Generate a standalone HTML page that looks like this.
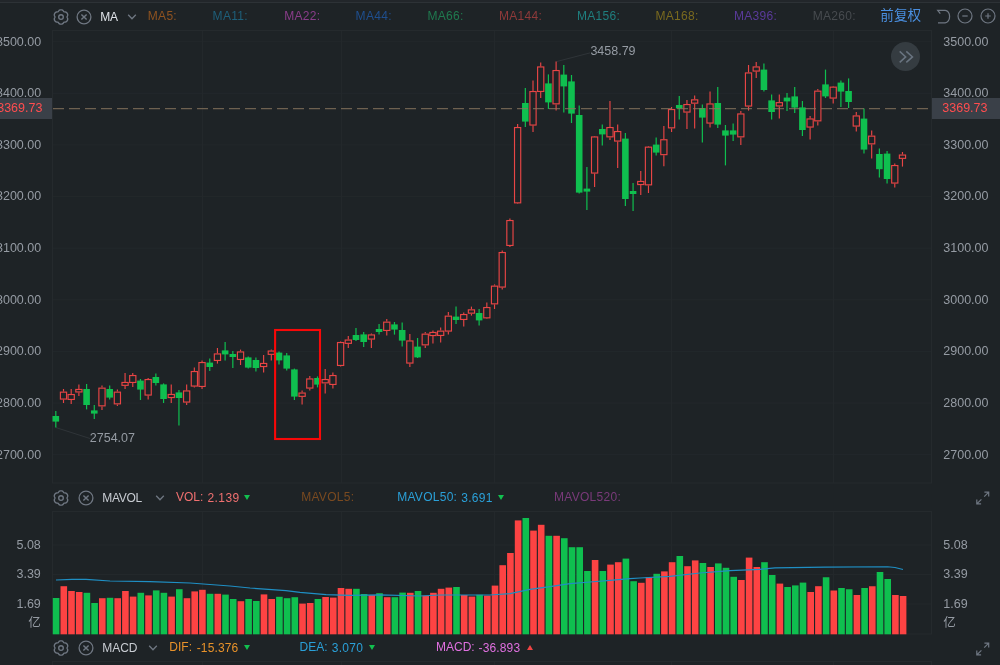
<!DOCTYPE html>
<html><head><meta charset="utf-8"><title>K线图</title>
<style>
html,body{margin:0;padding:0;}
body{width:1000px;height:665px;overflow:hidden;background:#1e2326;font-family:"Liberation Sans","Noto Sans CJK SC",sans-serif;position:relative;}
#chart{position:absolute;left:0;top:0;}
.t{position:absolute;line-height:16px;height:16px;white-space:nowrap;font-size:12px;}
.r{position:absolute;line-height:16px;height:16px;white-space:nowrap;font-size:12px;text-align:right;color:#959ba3;}
.icn{position:absolute;width:16px;height:16px;}
.icn svg{display:block;overflow:visible;}
.topline{position:absolute;left:0;top:0;width:1000px;height:1.800px;background:#22262a;border-bottom:1.200px solid #2d3236;}
.pbox{position:absolute;background:#3a4048;height:20.600px;top:98.200px;}
.ax{font-size:12.500px;}
.tri-d{position:absolute;width:0;height:0;border-left:3.500px solid transparent;border-right:3.500px solid transparent;border-top:5px solid #12c04f;}
.tri-u{position:absolute;width:0;height:0;border-left:3.500px solid transparent;border-right:3.500px solid transparent;border-bottom:5px solid #f04444;}
.fast{position:absolute;left:890.700px;top:41.800px;width:29.700px;height:29.700px;border-radius:50%;background:#353c41;}
</style></head><body>
<div class="topline"></div>

<svg id="chart" width="1000" height="665" viewBox="0 0 1000 665">
<rect x="52.5" y="30.5" width="879" height="452.5" fill="none" stroke="#252a2d" stroke-width="1"/>
<line x1="53" y1="41.7" x2="931" y2="41.7" stroke="#23282b" stroke-width="1"/>
<line x1="53" y1="93.32" x2="931" y2="93.32" stroke="#23282b" stroke-width="1"/>
<line x1="53" y1="144.94" x2="931" y2="144.94" stroke="#23282b" stroke-width="1"/>
<line x1="53" y1="196.56" x2="931" y2="196.56" stroke="#23282b" stroke-width="1"/>
<line x1="53" y1="248.18" x2="931" y2="248.18" stroke="#23282b" stroke-width="1"/>
<line x1="53" y1="299.8" x2="931" y2="299.8" stroke="#23282b" stroke-width="1"/>
<line x1="53" y1="351.42" x2="931" y2="351.42" stroke="#23282b" stroke-width="1"/>
<line x1="53" y1="403.04" x2="931" y2="403.04" stroke="#23282b" stroke-width="1"/>
<line x1="53" y1="454.66" x2="931" y2="454.66" stroke="#23282b" stroke-width="1"/>
<line x1="202.5" y1="31" x2="202.5" y2="483" stroke="#23282b" stroke-width="1"/>
<line x1="202.5" y1="512" x2="202.5" y2="634" stroke="#23282b" stroke-width="1"/>
<line x1="202.5" y1="662" x2="202.5" y2="665" stroke="#23282b" stroke-width="1"/>
<line x1="341.5" y1="31" x2="341.5" y2="483" stroke="#23282b" stroke-width="1"/>
<line x1="341.5" y1="512" x2="341.5" y2="634" stroke="#23282b" stroke-width="1"/>
<line x1="341.5" y1="662" x2="341.5" y2="665" stroke="#23282b" stroke-width="1"/>
<line x1="494.5" y1="31" x2="494.5" y2="483" stroke="#23282b" stroke-width="1"/>
<line x1="494.5" y1="512" x2="494.5" y2="634" stroke="#23282b" stroke-width="1"/>
<line x1="494.5" y1="662" x2="494.5" y2="665" stroke="#23282b" stroke-width="1"/>
<line x1="671.5" y1="31" x2="671.5" y2="483" stroke="#23282b" stroke-width="1"/>
<line x1="671.5" y1="512" x2="671.5" y2="634" stroke="#23282b" stroke-width="1"/>
<line x1="671.5" y1="662" x2="671.5" y2="665" stroke="#23282b" stroke-width="1"/>
<line x1="833.5" y1="31" x2="833.5" y2="483" stroke="#23282b" stroke-width="1"/>
<line x1="833.5" y1="512" x2="833.5" y2="634" stroke="#23282b" stroke-width="1"/>
<line x1="833.5" y1="662" x2="833.5" y2="665" stroke="#23282b" stroke-width="1"/>
<rect x="52.5" y="511.5" width="879" height="122.5" fill="none" stroke="#252a2d" stroke-width="1"/>
<line x1="53" y1="545" x2="931" y2="545" stroke="#23282b" stroke-width="1"/>
<line x1="53" y1="574.5" x2="931" y2="574.5" stroke="#23282b" stroke-width="1"/>
<line x1="53" y1="604" x2="931" y2="604" stroke="#23282b" stroke-width="1"/>
<rect x="52.5" y="661.5" width="879" height="20" fill="none" stroke="#252a2d" stroke-width="1"/>
<line x1="56" y1="427.6" x2="90" y2="438.5" stroke="#2f3438" stroke-width="1"/>
<line x1="556.5" y1="61.6" x2="590" y2="52.9" stroke="#2f3438" stroke-width="1"/>
<line x1="55.8" y1="411" x2="55.8" y2="427.6" stroke="#0fbf4f" stroke-width="1.2"/>
<rect x="52.5" y="416" width="6.6" height="5.6" fill="#0fbf4f"/>
<line x1="63.5" y1="389" x2="63.5" y2="391.6" stroke="#e84545" stroke-width="1.15"/>
<line x1="63.5" y1="399.6" x2="63.5" y2="403" stroke="#e84545" stroke-width="1.15"/>
<rect x="60.4" y="392.15" width="6.2" height="6.9" fill="none" stroke="#e84545" stroke-width="1.15"/>
<line x1="71.19" y1="389" x2="71.19" y2="394" stroke="#e84545" stroke-width="1.15"/>
<line x1="71.19" y1="400" x2="71.19" y2="404" stroke="#e84545" stroke-width="1.15"/>
<rect x="68.09" y="394.55" width="6.2" height="4.9" fill="none" stroke="#e84545" stroke-width="1.15"/>
<line x1="78.89" y1="384.4" x2="78.89" y2="388.9" stroke="#e84545" stroke-width="1.15"/>
<line x1="78.89" y1="392.5" x2="78.89" y2="396" stroke="#e84545" stroke-width="1.15"/>
<rect x="75.79" y="389.45" width="6.2" height="2.5" fill="none" stroke="#e84545" stroke-width="1.15"/>
<line x1="86.59" y1="384" x2="86.59" y2="409.4" stroke="#0fbf4f" stroke-width="1.2"/>
<rect x="83.29" y="389" width="6.6" height="16" fill="#0fbf4f"/>
<line x1="94.28" y1="405" x2="94.28" y2="419" stroke="#0fbf4f" stroke-width="1.2"/>
<rect x="90.98" y="410.4" width="6.6" height="3.2" fill="#0fbf4f"/>
<line x1="101.98" y1="385.6" x2="101.98" y2="387.6" stroke="#e84545" stroke-width="1.15"/>
<line x1="101.98" y1="406.4" x2="101.98" y2="410" stroke="#e84545" stroke-width="1.15"/>
<rect x="98.88" y="388.15" width="6.2" height="17.7" fill="none" stroke="#e84545" stroke-width="1.15"/>
<line x1="109.68" y1="385.6" x2="109.68" y2="399.6" stroke="#0fbf4f" stroke-width="1.2"/>
<rect x="106.38" y="389" width="6.6" height="8.6" fill="#0fbf4f"/>
<line x1="117.38" y1="389.4" x2="117.38" y2="391.6" stroke="#e84545" stroke-width="1.15"/>
<line x1="117.38" y1="404.4" x2="117.38" y2="406" stroke="#e84545" stroke-width="1.15"/>
<rect x="114.28" y="392.15" width="6.2" height="11.7" fill="none" stroke="#e84545" stroke-width="1.15"/>
<line x1="125.07" y1="373" x2="125.07" y2="381.9" stroke="#e84545" stroke-width="1.15"/>
<line x1="125.07" y1="385.9" x2="125.07" y2="389" stroke="#e84545" stroke-width="1.15"/>
<rect x="121.97" y="382.45" width="6.2" height="2.9" fill="none" stroke="#e84545" stroke-width="1.15"/>
<line x1="132.77" y1="373" x2="132.77" y2="375" stroke="#e84545" stroke-width="1.15"/>
<line x1="132.77" y1="383" x2="132.77" y2="387" stroke="#e84545" stroke-width="1.15"/>
<rect x="129.67" y="375.55" width="6.2" height="6.9" fill="none" stroke="#e84545" stroke-width="1.15"/>
<line x1="140.47" y1="379" x2="140.47" y2="400" stroke="#0fbf4f" stroke-width="1.2"/>
<rect x="137.17" y="380.6" width="6.6" height="9" fill="#0fbf4f"/>
<line x1="148.16" y1="378" x2="148.16" y2="379" stroke="#e84545" stroke-width="1.15"/>
<line x1="148.16" y1="395.6" x2="148.16" y2="399.6" stroke="#e84545" stroke-width="1.15"/>
<rect x="145.06" y="379.55" width="6.2" height="15.5" fill="none" stroke="#e84545" stroke-width="1.15"/>
<line x1="155.86" y1="373.4" x2="155.86" y2="385.6" stroke="#0fbf4f" stroke-width="1.2"/>
<rect x="152.56" y="377" width="6.6" height="6" fill="#0fbf4f"/>
<line x1="163.56" y1="383.4" x2="163.56" y2="403" stroke="#0fbf4f" stroke-width="1.2"/>
<rect x="160.26" y="384.4" width="6.6" height="14.6" fill="#0fbf4f"/>
<line x1="171.25" y1="384.4" x2="171.25" y2="393.9" stroke="#e84545" stroke-width="1.15"/>
<line x1="171.25" y1="398.1" x2="171.25" y2="403" stroke="#e84545" stroke-width="1.15"/>
<rect x="168.16" y="394.45" width="6.2" height="3.1" fill="none" stroke="#e84545" stroke-width="1.15"/>
<line x1="178.95" y1="390" x2="178.95" y2="425.6" stroke="#0fbf4f" stroke-width="1.2"/>
<rect x="175.65" y="392.4" width="6.6" height="5.6" fill="#0fbf4f"/>
<line x1="186.65" y1="384.4" x2="186.65" y2="390.4" stroke="#e84545" stroke-width="1.15"/>
<line x1="186.65" y1="402.6" x2="186.65" y2="405" stroke="#e84545" stroke-width="1.15"/>
<rect x="183.55" y="390.95" width="6.2" height="11.1" fill="none" stroke="#e84545" stroke-width="1.15"/>
<line x1="194.35" y1="367.4" x2="194.35" y2="371" stroke="#e84545" stroke-width="1.15"/>
<line x1="194.35" y1="386.6" x2="194.35" y2="387.6" stroke="#e84545" stroke-width="1.15"/>
<rect x="191.25" y="371.55" width="6.2" height="14.5" fill="none" stroke="#e84545" stroke-width="1.15"/>
<line x1="202.04" y1="360.6" x2="202.04" y2="362" stroke="#e84545" stroke-width="1.15"/>
<line x1="202.04" y1="387" x2="202.04" y2="389" stroke="#e84545" stroke-width="1.15"/>
<rect x="198.94" y="362.55" width="6.2" height="23.9" fill="none" stroke="#e84545" stroke-width="1.15"/>
<line x1="209.74" y1="358.6" x2="209.74" y2="371" stroke="#0fbf4f" stroke-width="1.2"/>
<rect x="206.44" y="362.6" width="6.6" height="4.4" fill="#0fbf4f"/>
<line x1="217.44" y1="348" x2="217.44" y2="353.4" stroke="#e84545" stroke-width="1.15"/>
<line x1="217.44" y1="361" x2="217.44" y2="363.6" stroke="#e84545" stroke-width="1.15"/>
<rect x="214.34" y="353.95" width="6.2" height="6.5" fill="none" stroke="#e84545" stroke-width="1.15"/>
<line x1="225.13" y1="342" x2="225.13" y2="360.6" stroke="#0fbf4f" stroke-width="1.2"/>
<rect x="221.83" y="350.4" width="6.6" height="4" fill="#0fbf4f"/>
<line x1="232.83" y1="351" x2="232.83" y2="368" stroke="#0fbf4f" stroke-width="1.2"/>
<rect x="229.53" y="354" width="6.6" height="3" fill="#0fbf4f"/>
<line x1="240.53" y1="349.6" x2="240.53" y2="351.4" stroke="#e84545" stroke-width="1.15"/>
<line x1="240.53" y1="360" x2="240.53" y2="365" stroke="#e84545" stroke-width="1.15"/>
<rect x="237.43" y="351.95" width="6.2" height="7.5" fill="none" stroke="#e84545" stroke-width="1.15"/>
<line x1="248.23" y1="356.4" x2="248.23" y2="368.6" stroke="#0fbf4f" stroke-width="1.2"/>
<rect x="244.93" y="357.4" width="6.6" height="10.2" fill="#0fbf4f"/>
<line x1="255.92" y1="357.6" x2="255.92" y2="371.4" stroke="#0fbf4f" stroke-width="1.2"/>
<rect x="252.62" y="360" width="6.6" height="8" fill="#0fbf4f"/>
<line x1="263.62" y1="355" x2="263.62" y2="362.9" stroke="#e84545" stroke-width="1.15"/>
<line x1="263.62" y1="367.1" x2="263.62" y2="372.6" stroke="#e84545" stroke-width="1.15"/>
<rect x="260.52" y="363.45" width="6.2" height="3.1" fill="none" stroke="#e84545" stroke-width="1.15"/>
<line x1="271.32" y1="349.6" x2="271.32" y2="350.5" stroke="#e84545" stroke-width="1.15"/>
<line x1="271.32" y1="354.9" x2="271.32" y2="360.4" stroke="#e84545" stroke-width="1.15"/>
<rect x="268.22" y="351.05" width="6.2" height="3.3" fill="none" stroke="#e84545" stroke-width="1.15"/>
<line x1="279.01" y1="351.4" x2="279.01" y2="364.4" stroke="#0fbf4f" stroke-width="1.2"/>
<rect x="275.71" y="352.6" width="6.6" height="7.8" fill="#0fbf4f"/>
<line x1="286.71" y1="353" x2="286.71" y2="370.6" stroke="#0fbf4f" stroke-width="1.2"/>
<rect x="283.41" y="355.4" width="6.6" height="13.2" fill="#0fbf4f"/>
<line x1="294.41" y1="368.6" x2="294.41" y2="400" stroke="#0fbf4f" stroke-width="1.2"/>
<rect x="291.11" y="369.4" width="6.6" height="27.2" fill="#0fbf4f"/>
<line x1="302.1" y1="390.4" x2="302.1" y2="392.5" stroke="#e84545" stroke-width="1.15"/>
<line x1="302.1" y1="396.9" x2="302.1" y2="404.6" stroke="#e84545" stroke-width="1.15"/>
<rect x="299" y="393.05" width="6.2" height="3.3" fill="none" stroke="#e84545" stroke-width="1.15"/>
<line x1="309.8" y1="376" x2="309.8" y2="378.4" stroke="#e84545" stroke-width="1.15"/>
<line x1="309.8" y1="388.6" x2="309.8" y2="390.6" stroke="#e84545" stroke-width="1.15"/>
<rect x="306.7" y="378.95" width="6.2" height="9.1" fill="none" stroke="#e84545" stroke-width="1.15"/>
<line x1="317.5" y1="376.4" x2="317.5" y2="387.4" stroke="#0fbf4f" stroke-width="1.2"/>
<rect x="314.2" y="378" width="6.6" height="6.6" fill="#0fbf4f"/>
<line x1="325.19" y1="369" x2="325.19" y2="379" stroke="#e84545" stroke-width="1.15"/>
<line x1="325.19" y1="383.4" x2="325.19" y2="393.6" stroke="#e84545" stroke-width="1.15"/>
<rect x="322.09" y="379.55" width="6.2" height="3.3" fill="none" stroke="#e84545" stroke-width="1.15"/>
<line x1="332.89" y1="372.4" x2="332.89" y2="375" stroke="#e84545" stroke-width="1.15"/>
<line x1="332.89" y1="385" x2="332.89" y2="388.4" stroke="#e84545" stroke-width="1.15"/>
<rect x="329.79" y="375.55" width="6.2" height="8.9" fill="none" stroke="#e84545" stroke-width="1.15"/>
<line x1="340.59" y1="341.4" x2="340.59" y2="342" stroke="#e84545" stroke-width="1.15"/>
<line x1="340.59" y1="366" x2="340.59" y2="366.6" stroke="#e84545" stroke-width="1.15"/>
<rect x="337.49" y="342.55" width="6.2" height="22.9" fill="none" stroke="#e84545" stroke-width="1.15"/>
<line x1="348.29" y1="336" x2="348.29" y2="339.5" stroke="#e84545" stroke-width="1.15"/>
<line x1="348.29" y1="343.9" x2="348.29" y2="348" stroke="#e84545" stroke-width="1.15"/>
<rect x="345.19" y="340.05" width="6.2" height="3.3" fill="none" stroke="#e84545" stroke-width="1.15"/>
<line x1="355.98" y1="328" x2="355.98" y2="341" stroke="#0fbf4f" stroke-width="1.2"/>
<rect x="352.68" y="335" width="6.6" height="5" fill="#0fbf4f"/>
<line x1="363.68" y1="332" x2="363.68" y2="347" stroke="#0fbf4f" stroke-width="1.2"/>
<rect x="360.38" y="334.4" width="6.6" height="7.6" fill="#0fbf4f"/>
<line x1="371.38" y1="333.6" x2="371.38" y2="334.4" stroke="#e84545" stroke-width="1.15"/>
<line x1="371.38" y1="339.6" x2="371.38" y2="348" stroke="#e84545" stroke-width="1.15"/>
<rect x="368.28" y="334.95" width="6.2" height="4.1" fill="none" stroke="#e84545" stroke-width="1.15"/>
<line x1="379.07" y1="324" x2="379.07" y2="334.6" stroke="#0fbf4f" stroke-width="1.2"/>
<rect x="375.77" y="329" width="6.6" height="3" fill="#0fbf4f"/>
<line x1="386.77" y1="319" x2="386.77" y2="321.6" stroke="#e84545" stroke-width="1.15"/>
<line x1="386.77" y1="331" x2="386.77" y2="335.4" stroke="#e84545" stroke-width="1.15"/>
<rect x="383.67" y="322.15" width="6.2" height="8.3" fill="none" stroke="#e84545" stroke-width="1.15"/>
<line x1="394.47" y1="322" x2="394.47" y2="334.6" stroke="#0fbf4f" stroke-width="1.2"/>
<rect x="391.17" y="324.4" width="6.6" height="5.2" fill="#0fbf4f"/>
<line x1="402.17" y1="322.4" x2="402.17" y2="346.4" stroke="#0fbf4f" stroke-width="1.2"/>
<rect x="398.87" y="330" width="6.6" height="10.6" fill="#0fbf4f"/>
<line x1="409.86" y1="334" x2="409.86" y2="340.4" stroke="#e84545" stroke-width="1.15"/>
<line x1="409.86" y1="363.6" x2="409.86" y2="367" stroke="#e84545" stroke-width="1.15"/>
<rect x="406.76" y="340.95" width="6.2" height="22.1" fill="none" stroke="#e84545" stroke-width="1.15"/>
<line x1="417.56" y1="338" x2="417.56" y2="358" stroke="#0fbf4f" stroke-width="1.2"/>
<rect x="414.26" y="346.6" width="6.6" height="10.8" fill="#0fbf4f"/>
<line x1="425.26" y1="332" x2="425.26" y2="333.6" stroke="#e84545" stroke-width="1.15"/>
<line x1="425.26" y1="345.4" x2="425.26" y2="348" stroke="#e84545" stroke-width="1.15"/>
<rect x="422.16" y="334.15" width="6.2" height="10.7" fill="none" stroke="#e84545" stroke-width="1.15"/>
<line x1="432.95" y1="330.6" x2="432.95" y2="331.9" stroke="#e84545" stroke-width="1.15"/>
<line x1="432.95" y1="336.1" x2="432.95" y2="343.6" stroke="#e84545" stroke-width="1.15"/>
<rect x="429.85" y="332.45" width="6.2" height="3.1" fill="none" stroke="#e84545" stroke-width="1.15"/>
<line x1="440.65" y1="327.6" x2="440.65" y2="330.6" stroke="#e84545" stroke-width="1.15"/>
<line x1="440.65" y1="336" x2="440.65" y2="342.4" stroke="#e84545" stroke-width="1.15"/>
<rect x="437.55" y="331.15" width="6.2" height="4.3" fill="none" stroke="#e84545" stroke-width="1.15"/>
<line x1="448.35" y1="312" x2="448.35" y2="315.6" stroke="#e84545" stroke-width="1.15"/>
<line x1="448.35" y1="331.6" x2="448.35" y2="334.4" stroke="#e84545" stroke-width="1.15"/>
<rect x="445.25" y="316.15" width="6.2" height="14.9" fill="none" stroke="#e84545" stroke-width="1.15"/>
<line x1="456.04" y1="306.4" x2="456.04" y2="324" stroke="#0fbf4f" stroke-width="1.2"/>
<rect x="452.74" y="316.6" width="6.6" height="3.4" fill="#0fbf4f"/>
<line x1="463.74" y1="312.6" x2="463.74" y2="314" stroke="#e84545" stroke-width="1.15"/>
<line x1="463.74" y1="320" x2="463.74" y2="326.6" stroke="#e84545" stroke-width="1.15"/>
<rect x="460.64" y="314.55" width="6.2" height="4.9" fill="none" stroke="#e84545" stroke-width="1.15"/>
<line x1="471.44" y1="306.6" x2="471.44" y2="309.3" stroke="#e84545" stroke-width="1.15"/>
<line x1="471.44" y1="313.7" x2="471.44" y2="315.6" stroke="#e84545" stroke-width="1.15"/>
<rect x="468.34" y="309.85" width="6.2" height="3.3" fill="none" stroke="#e84545" stroke-width="1.15"/>
<line x1="479.13" y1="309" x2="479.13" y2="325.6" stroke="#0fbf4f" stroke-width="1.2"/>
<rect x="475.83" y="313" width="6.6" height="7.4" fill="#0fbf4f"/>
<line x1="486.83" y1="302.6" x2="486.83" y2="307" stroke="#e84545" stroke-width="1.15"/>
<line x1="486.83" y1="318.4" x2="486.83" y2="319" stroke="#e84545" stroke-width="1.15"/>
<rect x="483.73" y="307.55" width="6.2" height="10.3" fill="none" stroke="#e84545" stroke-width="1.15"/>
<line x1="494.53" y1="284.4" x2="494.53" y2="285.6" stroke="#e84545" stroke-width="1.15"/>
<line x1="494.53" y1="304.4" x2="494.53" y2="309" stroke="#e84545" stroke-width="1.15"/>
<rect x="491.43" y="286.15" width="6.2" height="17.7" fill="none" stroke="#e84545" stroke-width="1.15"/>
<line x1="502.23" y1="250.6" x2="502.23" y2="252" stroke="#e84545" stroke-width="1.15"/>
<line x1="502.23" y1="287.6" x2="502.23" y2="289.4" stroke="#e84545" stroke-width="1.15"/>
<rect x="499.13" y="252.55" width="6.2" height="34.5" fill="none" stroke="#e84545" stroke-width="1.15"/>
<line x1="509.92" y1="218.6" x2="509.92" y2="220" stroke="#e84545" stroke-width="1.15"/>
<line x1="509.92" y1="246" x2="509.92" y2="247" stroke="#e84545" stroke-width="1.15"/>
<rect x="506.82" y="220.55" width="6.2" height="24.9" fill="none" stroke="#e84545" stroke-width="1.15"/>
<line x1="517.62" y1="124" x2="517.62" y2="127" stroke="#e84545" stroke-width="1.15"/>
<line x1="517.62" y1="203.4" x2="517.62" y2="204" stroke="#e84545" stroke-width="1.15"/>
<rect x="514.52" y="127.55" width="6.2" height="75.3" fill="none" stroke="#e84545" stroke-width="1.15"/>
<line x1="525.32" y1="88" x2="525.32" y2="127" stroke="#0fbf4f" stroke-width="1.2"/>
<rect x="522.02" y="103" width="6.6" height="18.6" fill="#0fbf4f"/>
<line x1="533.01" y1="80.6" x2="533.01" y2="91" stroke="#e84545" stroke-width="1.15"/>
<line x1="533.01" y1="125.6" x2="533.01" y2="132" stroke="#e84545" stroke-width="1.15"/>
<rect x="529.91" y="91.55" width="6.2" height="33.5" fill="none" stroke="#e84545" stroke-width="1.15"/>
<line x1="540.71" y1="62.4" x2="540.71" y2="66.4" stroke="#e84545" stroke-width="1.15"/>
<line x1="540.71" y1="92" x2="540.71" y2="98" stroke="#e84545" stroke-width="1.15"/>
<rect x="537.61" y="66.95" width="6.2" height="24.5" fill="none" stroke="#e84545" stroke-width="1.15"/>
<line x1="548.41" y1="74.4" x2="548.41" y2="109" stroke="#0fbf4f" stroke-width="1.2"/>
<rect x="545.11" y="83.4" width="6.6" height="19" fill="#0fbf4f"/>
<line x1="556.11" y1="61.6" x2="556.11" y2="70" stroke="#e84545" stroke-width="1.15"/>
<line x1="556.11" y1="104.4" x2="556.11" y2="110.6" stroke="#e84545" stroke-width="1.15"/>
<rect x="553" y="70.55" width="6.2" height="33.3" fill="none" stroke="#e84545" stroke-width="1.15"/>
<line x1="563.8" y1="65" x2="563.8" y2="112.4" stroke="#0fbf4f" stroke-width="1.2"/>
<rect x="560.5" y="74.6" width="6.6" height="11.8" fill="#0fbf4f"/>
<line x1="571.5" y1="75" x2="571.5" y2="123" stroke="#0fbf4f" stroke-width="1.2"/>
<rect x="568.2" y="81.4" width="6.6" height="32.2" fill="#0fbf4f"/>
<line x1="579.2" y1="105.4" x2="579.2" y2="193.6" stroke="#0fbf4f" stroke-width="1.2"/>
<rect x="575.9" y="115" width="6.6" height="77.6" fill="#0fbf4f"/>
<line x1="586.89" y1="167" x2="586.89" y2="210" stroke="#0fbf4f" stroke-width="1.2"/>
<rect x="583.59" y="188.6" width="6.6" height="3" fill="#0fbf4f"/>
<line x1="594.59" y1="136" x2="594.59" y2="136.4" stroke="#e84545" stroke-width="1.15"/>
<line x1="594.59" y1="173.6" x2="594.59" y2="187" stroke="#e84545" stroke-width="1.15"/>
<rect x="591.49" y="136.95" width="6.2" height="36.1" fill="none" stroke="#e84545" stroke-width="1.15"/>
<line x1="602.29" y1="124.4" x2="602.29" y2="145.6" stroke="#0fbf4f" stroke-width="1.2"/>
<rect x="598.99" y="129" width="6.6" height="5.4" fill="#0fbf4f"/>
<line x1="609.98" y1="101" x2="609.98" y2="127" stroke="#e84545" stroke-width="1.15"/>
<line x1="609.98" y1="137.4" x2="609.98" y2="140" stroke="#e84545" stroke-width="1.15"/>
<rect x="606.88" y="127.55" width="6.2" height="9.3" fill="none" stroke="#e84545" stroke-width="1.15"/>
<line x1="617.68" y1="124.4" x2="617.68" y2="131" stroke="#e84545" stroke-width="1.15"/>
<line x1="617.68" y1="141.6" x2="617.68" y2="168" stroke="#e84545" stroke-width="1.15"/>
<rect x="614.58" y="131.55" width="6.2" height="9.5" fill="none" stroke="#e84545" stroke-width="1.15"/>
<line x1="625.38" y1="133" x2="625.38" y2="206" stroke="#0fbf4f" stroke-width="1.2"/>
<rect x="622.08" y="138.6" width="6.6" height="60.4" fill="#0fbf4f"/>
<line x1="633.07" y1="183" x2="633.07" y2="211" stroke="#0fbf4f" stroke-width="1.2"/>
<rect x="629.77" y="191" width="6.6" height="3" fill="#0fbf4f"/>
<line x1="640.77" y1="171" x2="640.77" y2="180.9" stroke="#e84545" stroke-width="1.15"/>
<line x1="640.77" y1="185.1" x2="640.77" y2="195" stroke="#e84545" stroke-width="1.15"/>
<rect x="637.67" y="181.45" width="6.2" height="3.1" fill="none" stroke="#e84545" stroke-width="1.15"/>
<line x1="648.47" y1="146" x2="648.47" y2="146.6" stroke="#e84545" stroke-width="1.15"/>
<line x1="648.47" y1="185.4" x2="648.47" y2="193" stroke="#e84545" stroke-width="1.15"/>
<rect x="645.37" y="147.15" width="6.2" height="37.7" fill="none" stroke="#e84545" stroke-width="1.15"/>
<line x1="656.17" y1="137.4" x2="656.17" y2="155.6" stroke="#0fbf4f" stroke-width="1.2"/>
<rect x="652.87" y="144.6" width="6.6" height="8" fill="#0fbf4f"/>
<line x1="663.86" y1="126" x2="663.86" y2="139.2" stroke="#e84545" stroke-width="1.15"/>
<line x1="663.86" y1="155.2" x2="663.86" y2="166.2" stroke="#e84545" stroke-width="1.15"/>
<rect x="660.76" y="139.75" width="6.2" height="14.9" fill="none" stroke="#e84545" stroke-width="1.15"/>
<line x1="671.56" y1="107" x2="671.56" y2="109" stroke="#e84545" stroke-width="1.15"/>
<line x1="671.56" y1="128.4" x2="671.56" y2="132" stroke="#e84545" stroke-width="1.15"/>
<rect x="668.46" y="109.55" width="6.2" height="18.3" fill="none" stroke="#e84545" stroke-width="1.15"/>
<line x1="679.26" y1="96" x2="679.26" y2="119.4" stroke="#0fbf4f" stroke-width="1.2"/>
<rect x="675.96" y="105" width="6.6" height="3.4" fill="#0fbf4f"/>
<line x1="686.95" y1="100" x2="686.95" y2="104" stroke="#e84545" stroke-width="1.15"/>
<line x1="686.95" y1="112.6" x2="686.95" y2="129" stroke="#e84545" stroke-width="1.15"/>
<rect x="683.85" y="104.55" width="6.2" height="7.5" fill="none" stroke="#e84545" stroke-width="1.15"/>
<line x1="694.65" y1="95.4" x2="694.65" y2="99.3" stroke="#e84545" stroke-width="1.15"/>
<line x1="694.65" y1="103.7" x2="694.65" y2="128.4" stroke="#e84545" stroke-width="1.15"/>
<rect x="691.55" y="99.85" width="6.2" height="3.3" fill="none" stroke="#e84545" stroke-width="1.15"/>
<line x1="702.35" y1="104.6" x2="702.35" y2="142.4" stroke="#0fbf4f" stroke-width="1.2"/>
<rect x="699.05" y="108" width="6.6" height="9.6" fill="#0fbf4f"/>
<line x1="710.04" y1="91.6" x2="710.04" y2="103.4" stroke="#e84545" stroke-width="1.15"/>
<line x1="710.04" y1="123.6" x2="710.04" y2="127.6" stroke="#e84545" stroke-width="1.15"/>
<rect x="706.94" y="103.95" width="6.2" height="19.1" fill="none" stroke="#e84545" stroke-width="1.15"/>
<line x1="717.74" y1="87" x2="717.74" y2="128" stroke="#0fbf4f" stroke-width="1.2"/>
<rect x="714.44" y="103" width="6.6" height="21.6" fill="#0fbf4f"/>
<line x1="725.44" y1="125" x2="725.44" y2="165.4" stroke="#0fbf4f" stroke-width="1.2"/>
<rect x="722.14" y="130.4" width="6.6" height="5.2" fill="#0fbf4f"/>
<line x1="733.14" y1="123.6" x2="733.14" y2="141" stroke="#0fbf4f" stroke-width="1.2"/>
<rect x="729.84" y="130.4" width="6.6" height="4.2" fill="#0fbf4f"/>
<line x1="740.83" y1="111" x2="740.83" y2="113.4" stroke="#e84545" stroke-width="1.15"/>
<line x1="740.83" y1="137.4" x2="740.83" y2="145" stroke="#e84545" stroke-width="1.15"/>
<rect x="737.73" y="113.95" width="6.2" height="22.9" fill="none" stroke="#e84545" stroke-width="1.15"/>
<line x1="748.53" y1="65" x2="748.53" y2="72.4" stroke="#e84545" stroke-width="1.15"/>
<line x1="748.53" y1="106.6" x2="748.53" y2="110.6" stroke="#e84545" stroke-width="1.15"/>
<rect x="745.43" y="72.95" width="6.2" height="33.1" fill="none" stroke="#e84545" stroke-width="1.15"/>
<line x1="756.23" y1="62" x2="756.23" y2="66.4" stroke="#e84545" stroke-width="1.15"/>
<line x1="756.23" y1="71.6" x2="756.23" y2="78" stroke="#e84545" stroke-width="1.15"/>
<rect x="753.13" y="66.95" width="6.2" height="4.1" fill="none" stroke="#e84545" stroke-width="1.15"/>
<line x1="763.92" y1="63.4" x2="763.92" y2="91.4" stroke="#0fbf4f" stroke-width="1.2"/>
<rect x="760.62" y="69.6" width="6.6" height="20.4" fill="#0fbf4f"/>
<line x1="771.62" y1="94.4" x2="771.62" y2="119.6" stroke="#0fbf4f" stroke-width="1.2"/>
<rect x="768.32" y="100.4" width="6.6" height="11.6" fill="#0fbf4f"/>
<line x1="779.32" y1="94.4" x2="779.32" y2="102.1" stroke="#e84545" stroke-width="1.15"/>
<line x1="779.32" y1="106.5" x2="779.32" y2="118.4" stroke="#e84545" stroke-width="1.15"/>
<rect x="776.22" y="102.65" width="6.2" height="3.3" fill="none" stroke="#e84545" stroke-width="1.15"/>
<line x1="787.01" y1="93" x2="787.01" y2="111" stroke="#0fbf4f" stroke-width="1.2"/>
<rect x="783.72" y="97.6" width="6.6" height="3.8" fill="#0fbf4f"/>
<line x1="794.71" y1="87" x2="794.71" y2="113" stroke="#0fbf4f" stroke-width="1.2"/>
<rect x="791.41" y="96.4" width="6.6" height="11.2" fill="#0fbf4f"/>
<line x1="802.41" y1="101" x2="802.41" y2="136" stroke="#0fbf4f" stroke-width="1.2"/>
<rect x="799.11" y="107.4" width="6.6" height="22.6" fill="#0fbf4f"/>
<line x1="810.11" y1="116" x2="810.11" y2="118.4" stroke="#e84545" stroke-width="1.15"/>
<line x1="810.11" y1="127.6" x2="810.11" y2="139.4" stroke="#e84545" stroke-width="1.15"/>
<rect x="807.01" y="118.95" width="6.2" height="8.1" fill="none" stroke="#e84545" stroke-width="1.15"/>
<line x1="817.8" y1="89" x2="817.8" y2="90.6" stroke="#e84545" stroke-width="1.15"/>
<line x1="817.8" y1="121.4" x2="817.8" y2="125.6" stroke="#e84545" stroke-width="1.15"/>
<rect x="814.7" y="91.15" width="6.2" height="29.7" fill="none" stroke="#e84545" stroke-width="1.15"/>
<line x1="825.5" y1="69.6" x2="825.5" y2="98" stroke="#0fbf4f" stroke-width="1.2"/>
<rect x="822.2" y="84.4" width="6.6" height="12" fill="#0fbf4f"/>
<line x1="833.2" y1="86" x2="833.2" y2="86.6" stroke="#e84545" stroke-width="1.15"/>
<line x1="833.2" y1="98.6" x2="833.2" y2="103.6" stroke="#e84545" stroke-width="1.15"/>
<rect x="830.1" y="87.15" width="6.2" height="10.9" fill="none" stroke="#e84545" stroke-width="1.15"/>
<line x1="840.89" y1="80.4" x2="840.89" y2="107" stroke="#0fbf4f" stroke-width="1.2"/>
<rect x="837.59" y="82.6" width="6.6" height="9" fill="#0fbf4f"/>
<line x1="848.59" y1="78.4" x2="848.59" y2="108" stroke="#0fbf4f" stroke-width="1.2"/>
<rect x="845.29" y="91" width="6.6" height="11" fill="#0fbf4f"/>
<line x1="856.29" y1="112" x2="856.29" y2="115.4" stroke="#e84545" stroke-width="1.15"/>
<line x1="856.29" y1="126.6" x2="856.29" y2="131.6" stroke="#e84545" stroke-width="1.15"/>
<rect x="853.19" y="115.95" width="6.2" height="10.1" fill="none" stroke="#e84545" stroke-width="1.15"/>
<line x1="863.99" y1="108.4" x2="863.99" y2="153.6" stroke="#0fbf4f" stroke-width="1.2"/>
<rect x="860.69" y="118.6" width="6.6" height="31" fill="#0fbf4f"/>
<line x1="871.68" y1="130.6" x2="871.68" y2="135.6" stroke="#e84545" stroke-width="1.15"/>
<line x1="871.68" y1="144.4" x2="871.68" y2="158.4" stroke="#e84545" stroke-width="1.15"/>
<rect x="868.58" y="136.15" width="6.2" height="7.7" fill="none" stroke="#e84545" stroke-width="1.15"/>
<line x1="879.38" y1="148.4" x2="879.38" y2="177.6" stroke="#0fbf4f" stroke-width="1.2"/>
<rect x="876.08" y="154" width="6.6" height="15.2" fill="#0fbf4f"/>
<line x1="887.08" y1="151" x2="887.08" y2="183.4" stroke="#0fbf4f" stroke-width="1.2"/>
<rect x="883.78" y="153.6" width="6.6" height="25.4" fill="#0fbf4f"/>
<line x1="894.77" y1="163.4" x2="894.77" y2="165" stroke="#e84545" stroke-width="1.15"/>
<line x1="894.77" y1="183.6" x2="894.77" y2="187.4" stroke="#e84545" stroke-width="1.15"/>
<rect x="891.67" y="165.55" width="6.2" height="17.5" fill="none" stroke="#e84545" stroke-width="1.15"/>
<line x1="902.47" y1="152" x2="902.47" y2="154.5" stroke="#e84545" stroke-width="1.15"/>
<line x1="902.47" y1="158.9" x2="902.47" y2="166.6" stroke="#e84545" stroke-width="1.15"/>
<rect x="899.37" y="155.05" width="6.2" height="3.3" fill="none" stroke="#e84545" stroke-width="1.15"/>
<line x1="53" y1="108.6" x2="929" y2="108.6" stroke="#8a775f" stroke-opacity="0.75" stroke-width="1.2" stroke-dasharray="11 5"/>
<rect x="275.1" y="330" width="44.9" height="109" fill="none" stroke="#f80808" stroke-width="2.1"/>
<rect x="52.8" y="598" width="6.6" height="36.3" fill="#0fbf4f"/>
<rect x="60.5" y="586.2" width="6.6" height="48.1" fill="#fd4343"/>
<rect x="68.2" y="591" width="6.6" height="43.3" fill="#fd4343"/>
<rect x="75.9" y="592" width="6.6" height="42.3" fill="#fd4343"/>
<rect x="83.6" y="592.8" width="6.6" height="41.5" fill="#0fbf4f"/>
<rect x="91.3" y="603" width="6.6" height="31.3" fill="#0fbf4f"/>
<rect x="99" y="598.2" width="6.6" height="36.1" fill="#fd4343"/>
<rect x="106.7" y="597.8" width="6.6" height="36.5" fill="#0fbf4f"/>
<rect x="114.4" y="598.2" width="6.6" height="36.1" fill="#fd4343"/>
<rect x="122.1" y="591" width="6.6" height="43.3" fill="#fd4343"/>
<rect x="129.8" y="596.6" width="6.6" height="37.7" fill="#fd4343"/>
<rect x="137.5" y="592.8" width="6.6" height="41.5" fill="#0fbf4f"/>
<rect x="145.2" y="595.4" width="6.6" height="38.9" fill="#fd4343"/>
<rect x="152.9" y="590.4" width="6.6" height="43.9" fill="#0fbf4f"/>
<rect x="160.6" y="592.8" width="6.6" height="41.5" fill="#0fbf4f"/>
<rect x="168.3" y="596.6" width="6.6" height="37.7" fill="#fd4343"/>
<rect x="176" y="589.2" width="6.6" height="45.1" fill="#0fbf4f"/>
<rect x="183.7" y="598.2" width="6.6" height="36.1" fill="#fd4343"/>
<rect x="191.4" y="591.4" width="6.6" height="42.9" fill="#fd4343"/>
<rect x="199.1" y="589.8" width="6.6" height="44.5" fill="#fd4343"/>
<rect x="206.8" y="593.8" width="6.6" height="40.5" fill="#0fbf4f"/>
<rect x="214.5" y="593.8" width="6.6" height="40.5" fill="#fd4343"/>
<rect x="222.2" y="594.6" width="6.6" height="39.7" fill="#0fbf4f"/>
<rect x="229.9" y="599" width="6.6" height="35.3" fill="#0fbf4f"/>
<rect x="237.6" y="601.2" width="6.6" height="33.1" fill="#fd4343"/>
<rect x="245.3" y="599" width="6.6" height="35.3" fill="#0fbf4f"/>
<rect x="253" y="601" width="6.6" height="33.3" fill="#0fbf4f"/>
<rect x="260.7" y="594.4" width="6.6" height="39.9" fill="#fd4343"/>
<rect x="268.4" y="599" width="6.6" height="35.3" fill="#fd4343"/>
<rect x="276.1" y="596.8" width="6.6" height="37.5" fill="#0fbf4f"/>
<rect x="283.8" y="598.2" width="6.6" height="36.1" fill="#0fbf4f"/>
<rect x="291.5" y="597.2" width="6.6" height="37.1" fill="#0fbf4f"/>
<rect x="299.2" y="603.6" width="6.6" height="30.7" fill="#fd4343"/>
<rect x="306.9" y="603" width="6.6" height="31.3" fill="#fd4343"/>
<rect x="314.6" y="599" width="6.6" height="35.3" fill="#0fbf4f"/>
<rect x="322.3" y="597" width="6.6" height="37.3" fill="#fd4343"/>
<rect x="330" y="597.6" width="6.6" height="36.7" fill="#fd4343"/>
<rect x="337.7" y="588" width="6.6" height="46.3" fill="#fd4343"/>
<rect x="345.4" y="588.8" width="6.6" height="45.5" fill="#fd4343"/>
<rect x="353.1" y="588.8" width="6.6" height="45.5" fill="#0fbf4f"/>
<rect x="360.8" y="594" width="6.6" height="40.3" fill="#0fbf4f"/>
<rect x="368.5" y="595" width="6.6" height="39.3" fill="#fd4343"/>
<rect x="376.2" y="593.2" width="6.6" height="41.1" fill="#0fbf4f"/>
<rect x="383.9" y="597.2" width="6.6" height="37.1" fill="#fd4343"/>
<rect x="391.6" y="597.2" width="6.6" height="37.1" fill="#0fbf4f"/>
<rect x="399.3" y="592.6" width="6.6" height="41.7" fill="#0fbf4f"/>
<rect x="407" y="592.8" width="6.6" height="41.5" fill="#fd4343"/>
<rect x="414.7" y="591" width="6.6" height="43.3" fill="#0fbf4f"/>
<rect x="422.4" y="595.6" width="6.6" height="38.7" fill="#fd4343"/>
<rect x="430.1" y="592.8" width="6.6" height="41.5" fill="#fd4343"/>
<rect x="437.8" y="588.8" width="6.6" height="45.5" fill="#fd4343"/>
<rect x="445.5" y="587.6" width="6.6" height="46.7" fill="#fd4343"/>
<rect x="453.2" y="587" width="6.6" height="47.3" fill="#0fbf4f"/>
<rect x="460.9" y="595" width="6.6" height="39.3" fill="#fd4343"/>
<rect x="468.6" y="596.6" width="6.6" height="37.7" fill="#fd4343"/>
<rect x="476.3" y="594.8" width="6.6" height="39.5" fill="#0fbf4f"/>
<rect x="484" y="595.6" width="6.6" height="38.7" fill="#fd4343"/>
<rect x="491.7" y="585.6" width="6.6" height="48.7" fill="#fd4343"/>
<rect x="499.4" y="565.2" width="6.6" height="69.1" fill="#fd4343"/>
<rect x="507.1" y="553" width="6.6" height="81.3" fill="#fd4343"/>
<rect x="514.8" y="520.4" width="6.6" height="113.9" fill="#fd4343"/>
<rect x="522.5" y="518" width="6.6" height="116.3" fill="#0fbf4f"/>
<rect x="530.2" y="530.6" width="6.6" height="103.7" fill="#fd4343"/>
<rect x="537.9" y="524.8" width="6.6" height="109.5" fill="#fd4343"/>
<rect x="545.6" y="535.8" width="6.6" height="98.5" fill="#0fbf4f"/>
<rect x="553.3" y="535.8" width="6.6" height="98.5" fill="#fd4343"/>
<rect x="561" y="538.2" width="6.6" height="96.1" fill="#0fbf4f"/>
<rect x="568.7" y="547.2" width="6.6" height="87.1" fill="#0fbf4f"/>
<rect x="576.4" y="547.2" width="6.6" height="87.1" fill="#0fbf4f"/>
<rect x="584.1" y="571" width="6.6" height="63.3" fill="#0fbf4f"/>
<rect x="591.8" y="560" width="6.6" height="74.3" fill="#fd4343"/>
<rect x="599.5" y="571" width="6.6" height="63.3" fill="#0fbf4f"/>
<rect x="607.2" y="564.6" width="6.6" height="69.7" fill="#fd4343"/>
<rect x="614.9" y="562.2" width="6.6" height="72.1" fill="#fd4343"/>
<rect x="622.6" y="558.6" width="6.6" height="75.7" fill="#0fbf4f"/>
<rect x="630.3" y="581.2" width="6.6" height="53.1" fill="#0fbf4f"/>
<rect x="638" y="582.8" width="6.6" height="51.5" fill="#fd4343"/>
<rect x="645.7" y="577" width="6.6" height="57.3" fill="#fd4343"/>
<rect x="653.4" y="573.8" width="6.6" height="60.5" fill="#0fbf4f"/>
<rect x="661.1" y="571.4" width="6.6" height="62.9" fill="#fd4343"/>
<rect x="668.8" y="562.2" width="6.6" height="72.1" fill="#fd4343"/>
<rect x="676.5" y="556" width="6.6" height="78.3" fill="#0fbf4f"/>
<rect x="684.2" y="566.2" width="6.6" height="68.1" fill="#fd4343"/>
<rect x="691.9" y="560.4" width="6.6" height="73.9" fill="#fd4343"/>
<rect x="699.6" y="563" width="6.6" height="71.3" fill="#0fbf4f"/>
<rect x="707.3" y="567" width="6.6" height="67.3" fill="#fd4343"/>
<rect x="715" y="563.4" width="6.6" height="70.9" fill="#0fbf4f"/>
<rect x="722.7" y="567.8" width="6.6" height="66.5" fill="#0fbf4f"/>
<rect x="730.4" y="576.8" width="6.6" height="57.5" fill="#0fbf4f"/>
<rect x="738.1" y="580" width="6.6" height="54.3" fill="#fd4343"/>
<rect x="745.8" y="557.6" width="6.6" height="76.7" fill="#fd4343"/>
<rect x="753.5" y="567" width="6.6" height="67.3" fill="#fd4343"/>
<rect x="761.2" y="562.2" width="6.6" height="72.1" fill="#0fbf4f"/>
<rect x="768.9" y="575" width="6.6" height="59.3" fill="#0fbf4f"/>
<rect x="776.6" y="583.6" width="6.6" height="50.7" fill="#fd4343"/>
<rect x="784.3" y="587" width="6.6" height="47.3" fill="#0fbf4f"/>
<rect x="792" y="585.4" width="6.6" height="48.9" fill="#0fbf4f"/>
<rect x="799.7" y="582.6" width="6.6" height="51.7" fill="#0fbf4f"/>
<rect x="807.4" y="592" width="6.6" height="42.3" fill="#fd4343"/>
<rect x="815.1" y="586.2" width="6.6" height="48.1" fill="#fd4343"/>
<rect x="822.8" y="577.25" width="6.6" height="57.05" fill="#0fbf4f"/>
<rect x="830.5" y="590.5" width="6.6" height="43.8" fill="#fd4343"/>
<rect x="838.2" y="588" width="6.6" height="46.3" fill="#0fbf4f"/>
<rect x="845.9" y="589.25" width="6.6" height="45.05" fill="#0fbf4f"/>
<rect x="853.6" y="595" width="6.6" height="39.3" fill="#fd4343"/>
<rect x="861.3" y="588" width="6.6" height="46.3" fill="#0fbf4f"/>
<rect x="869" y="586.25" width="6.6" height="48.05" fill="#fd4343"/>
<rect x="876.7" y="572" width="6.6" height="62.3" fill="#0fbf4f"/>
<rect x="884.4" y="579" width="6.6" height="55.3" fill="#0fbf4f"/>
<rect x="892.1" y="595" width="6.6" height="39.3" fill="#fd4343"/>
<rect x="899.8" y="596" width="6.6" height="38.3" fill="#fd4343"/>
<polyline points="56,580 72,579.4 86,579.4 110,581 150,581.6 190,583 230,586 250,588 286,590.6 300,592.4 326,594.6 350,595.4 380,594.8 420,596 440,595 490,595 510,593.6 530,589.4 550,586.6 570,583.6 590,582 610,580.4 630,578.6 640,578 670,576.4 700,573 730,570.6 760,569.4 775,567.8 825,567.2 887.5,566.75 895,567.5 903,569.5" fill="none" stroke="#1f8fc4" stroke-width="1.2" stroke-linejoin="round"/>
</svg>
<div class="pbox" style="left:0;width:52px;"></div>
<div class="pbox" style="left:932px;width:68px;"></div>
<div class="r ax" style="left:-20px;width:61.200px;top:33.9px;">3500.00</div>
<div class="t ax" style="left:943.300px;top:33.9px;color:#959ba3;">3500.00</div>
<div class="r ax" style="left:-20px;width:61.200px;top:84.95px;">3400.00</div>
<div class="t ax" style="left:943.300px;top:84.95px;color:#959ba3;">3400.00</div>
<div class="r ax" style="left:-20px;width:61.200px;top:136.6px;">3300.00</div>
<div class="t ax" style="left:943.300px;top:136.6px;color:#959ba3;">3300.00</div>
<div class="r ax" style="left:-20px;width:61.200px;top:188.25px;">3200.00</div>
<div class="t ax" style="left:943.300px;top:188.25px;color:#959ba3;">3200.00</div>
<div class="r ax" style="left:-20px;width:61.200px;top:239.9px;">3100.00</div>
<div class="t ax" style="left:943.300px;top:239.9px;color:#959ba3;">3100.00</div>
<div class="r ax" style="left:-20px;width:61.200px;top:291.55px;">3000.00</div>
<div class="t ax" style="left:943.300px;top:291.55px;color:#959ba3;">3000.00</div>
<div class="r ax" style="left:-20px;width:61.200px;top:343.2px;">2900.00</div>
<div class="t ax" style="left:943.300px;top:343.2px;color:#959ba3;">2900.00</div>
<div class="r ax" style="left:-20px;width:61.200px;top:394.85px;">2800.00</div>
<div class="t ax" style="left:943.300px;top:394.85px;color:#959ba3;">2800.00</div>
<div class="r ax" style="left:-20px;width:61.200px;top:446.5px;">2700.00</div>
<div class="t ax" style="left:943.300px;top:446.5px;color:#959ba3;">2700.00</div>
<div class="r ax" style="left:-20px;width:62.400px;top:100.400px;color:#ff4d4f;">3369.73</div>
<div class="t ax" style="left:942.300px;top:100.400px;color:#ff4d4f;">3369.73</div>
<div class="r ax" style="left:0;width:40.800px;top:536.5px;">5.08</div>
<div class="t ax" style="left:943.300px;top:536.5px;color:#959ba3;">5.08</div>
<div class="r ax" style="left:0;width:40.800px;top:566.3px;">3.39</div>
<div class="t ax" style="left:943.300px;top:566.3px;color:#959ba3;">3.39</div>
<div class="r ax" style="left:0;width:40.800px;top:596px;">1.69</div>
<div class="t ax" style="left:943.300px;top:596px;color:#959ba3;">1.69</div>
<div class="r ax" style="left:0;width:40.800px;top:614.5px;">亿</div>
<div class="t ax" style="left:943.300px;top:614.5px;color:#959ba3;">亿</div>
<div class="t" style="left:89.8px;top:429.6px;color:#959ba3;font-size:12.5px;">2754.07</div>
<div class="t" style="left:590.4px;top:43.4px;color:#959ba3;font-size:12.5px;">3458.79</div>
<div class="icn" style="left:52.6px;top:9.15px;"><svg viewBox="0 0 16 16" width="16" height="16"><path d="M14.05 8.00 L14.12 8.40 L14.31 8.83 L14.52 9.30 L14.68 9.79 L14.71 10.28 L14.63 10.75 L14.46 11.18 L14.24 11.60 L13.99 12.00 L13.69 12.37 L13.33 12.68 L12.89 12.89 L12.38 13.00 L11.87 13.05 L11.41 13.10 L11.03 13.24 L10.71 13.50 L10.43 13.88 L10.14 14.30 L9.79 14.68 L9.38 14.95 L8.94 15.11 L8.47 15.18 L8.00 15.20 L7.53 15.18 L7.06 15.11 L6.62 14.95 L6.21 14.68 L5.86 14.30 L5.57 13.88 L5.29 13.50 L4.98 13.24 L4.59 13.10 L4.13 13.05 L3.62 13.00 L3.11 12.89 L2.67 12.68 L2.31 12.37 L2.01 12.00 L1.76 11.60 L1.54 11.18 L1.37 10.75 L1.29 10.28 L1.32 9.79 L1.48 9.30 L1.69 8.83 L1.88 8.40 L1.95 8.00 L1.88 7.60 L1.69 7.17 L1.48 6.70 L1.32 6.21 L1.29 5.72 L1.37 5.25 L1.54 4.82 L1.76 4.40 L2.01 4.00 L2.31 3.63 L2.67 3.32 L3.11 3.11 L3.62 3.00 L4.13 2.95 L4.59 2.90 L4.97 2.76 L5.29 2.50 L5.57 2.12 L5.86 1.70 L6.21 1.32 L6.62 1.05 L7.06 0.89 L7.53 0.82 L8.00 0.80 L8.47 0.82 L8.94 0.89 L9.38 1.05 L9.79 1.32 L10.14 1.70 L10.43 2.12 L10.71 2.50 L11.03 2.76 L11.41 2.90 L11.87 2.95 L12.38 3.00 L12.89 3.11 L13.33 3.32 L13.69 3.63 L13.99 4.00 L14.24 4.40 L14.46 4.82 L14.63 5.25 L14.71 5.72 L14.68 6.21 L14.52 6.70 L14.31 7.17 L14.12 7.60Z" fill="none" stroke="#6f7782" stroke-width="1.35" stroke-linejoin="round"/><circle cx="8" cy="8" r="2.3" fill="none" stroke="#6f7782" stroke-width="1.35"/></svg></div>
<div class="icn" style="left:75.6px;top:9.15px;"><svg viewBox="0 0 16 16" width="16" height="16"><circle cx="8" cy="8" r="6.9" fill="none" stroke="#6f7782" stroke-width="1.3"/><path d="M5.400 5.400L10.600 10.600M10.600 5.400L5.400 10.600" stroke="#6f7782" stroke-width="1.45" fill="none"/></svg></div>
<div class="t" style="left:100.2px;top:8.600000000000001px;color:#dfe3e8;font-size:12px;letter-spacing:-0.300px;">MA</div>
<div class="icn" style="left:126.800px;top:13.700px;"><svg viewBox="0 0 10 6" width="10" height="6"><path d="M1.200 0.800L5 4.800L8.800 0.800" fill="none" stroke="#6f7782" stroke-width="1.3"/></svg></div>
<div class="t" style="left:147.8px;top:7.9px;color:#8f5320;font-size:12px;letter-spacing:0.300px;">MA5:</div>
<div class="t" style="left:212.6px;top:7.9px;color:#1e5f7a;font-size:12px;letter-spacing:0.300px;">MA11:</div>
<div class="t" style="left:284.2px;top:7.9px;color:#8a3d8a;font-size:12px;letter-spacing:0.300px;">MA22:</div>
<div class="t" style="left:355.6px;top:7.9px;color:#1f4f8f;font-size:12px;letter-spacing:0.300px;">MA44:</div>
<div class="t" style="left:427.4px;top:7.9px;color:#1f7a4f;font-size:12px;letter-spacing:0.300px;">MA66:</div>
<div class="t" style="left:499px;top:7.9px;color:#8f3a3a;font-size:12px;letter-spacing:0.300px;">MA144:</div>
<div class="t" style="left:577px;top:7.9px;color:#1f7f7f;font-size:12px;letter-spacing:0.300px;">MA156:</div>
<div class="t" style="left:655.5px;top:7.9px;color:#7a6a1f;font-size:12px;letter-spacing:0.300px;">MA168:</div>
<div class="t" style="left:734px;top:7.9px;color:#5a3a9a;font-size:12px;letter-spacing:0.300px;">MA396:</div>
<div class="t" style="left:812.7px;top:7.9px;color:#474b4f;font-size:12px;letter-spacing:0.300px;">MA260:</div>
<div class="t" style="left:880.3px;top:8.100000000000001px;color:#4a8fe0;font-size:13.6px;">前复权</div>
<div class="icn" style="left:936px;top:8px;"><svg viewBox="0 0 16 16" width="16" height="16"><path d="M4.300 5.600L1.700 2.300H9.200A4.400 6.220 0 0 1 9.200 14.750H2" fill="none" stroke="#6f7782" stroke-width="1.25" stroke-linejoin="miter"/></svg></div>
<div class="icn" style="left:957.3px;top:8px;"><svg viewBox="0 0 16 16" width="16" height="16"><circle cx="8" cy="8" r="7" fill="none" stroke="#6f7782" stroke-width="1.2"/><path d="M5.300 8H10.700" stroke="#6f7782" stroke-width="1.25"/></svg></div>
<div class="icn" style="left:979.7px;top:8px;"><svg viewBox="0 0 16 16" width="16" height="16"><circle cx="8" cy="8" r="7" fill="none" stroke="#6f7782" stroke-width="1.2"/><path d="M5.200 8H10.800M8 5.200V10.800" stroke="#6f7782" stroke-width="1.2"/></svg></div>
<div class="fast"><svg viewBox="0 0 30 30" width="30" height="30"><path d="M8.700 9.400L14.700 14.900L8.700 20.400M15.300 9.400L21.500 14.900L15.300 20.400" fill="none" stroke="#697480" stroke-width="1.5"/></svg></div>
<div class="icn" style="left:52.6px;top:490.25px;"><svg viewBox="0 0 16 16" width="16" height="16"><path d="M14.05 8.00 L14.12 8.40 L14.31 8.83 L14.52 9.30 L14.68 9.79 L14.71 10.28 L14.63 10.75 L14.46 11.18 L14.24 11.60 L13.99 12.00 L13.69 12.37 L13.33 12.68 L12.89 12.89 L12.38 13.00 L11.87 13.05 L11.41 13.10 L11.03 13.24 L10.71 13.50 L10.43 13.88 L10.14 14.30 L9.79 14.68 L9.38 14.95 L8.94 15.11 L8.47 15.18 L8.00 15.20 L7.53 15.18 L7.06 15.11 L6.62 14.95 L6.21 14.68 L5.86 14.30 L5.57 13.88 L5.29 13.50 L4.98 13.24 L4.59 13.10 L4.13 13.05 L3.62 13.00 L3.11 12.89 L2.67 12.68 L2.31 12.37 L2.01 12.00 L1.76 11.60 L1.54 11.18 L1.37 10.75 L1.29 10.28 L1.32 9.79 L1.48 9.30 L1.69 8.83 L1.88 8.40 L1.95 8.00 L1.88 7.60 L1.69 7.17 L1.48 6.70 L1.32 6.21 L1.29 5.72 L1.37 5.25 L1.54 4.82 L1.76 4.40 L2.01 4.00 L2.31 3.63 L2.67 3.32 L3.11 3.11 L3.62 3.00 L4.13 2.95 L4.59 2.90 L4.97 2.76 L5.29 2.50 L5.57 2.12 L5.86 1.70 L6.21 1.32 L6.62 1.05 L7.06 0.89 L7.53 0.82 L8.00 0.80 L8.47 0.82 L8.94 0.89 L9.38 1.05 L9.79 1.32 L10.14 1.70 L10.43 2.12 L10.71 2.50 L11.03 2.76 L11.41 2.90 L11.87 2.95 L12.38 3.00 L12.89 3.11 L13.33 3.32 L13.69 3.63 L13.99 4.00 L14.24 4.40 L14.46 4.82 L14.63 5.25 L14.71 5.72 L14.68 6.21 L14.52 6.70 L14.31 7.17 L14.12 7.60Z" fill="none" stroke="#6f7782" stroke-width="1.35" stroke-linejoin="round"/><circle cx="8" cy="8" r="2.3" fill="none" stroke="#6f7782" stroke-width="1.35"/></svg></div>
<div class="icn" style="left:77.9px;top:490.25px;"><svg viewBox="0 0 16 16" width="16" height="16"><circle cx="8" cy="8" r="6.9" fill="none" stroke="#6f7782" stroke-width="1.3"/><path d="M5.400 5.400L10.600 10.600M10.600 5.400L5.400 10.600" stroke="#6f7782" stroke-width="1.45" fill="none"/></svg></div>
<div class="t" style="left:102.2px;top:489.59999999999997px;color:#c8ccd2;font-size:12px;letter-spacing:-0.300px;">MAVOL</div>
<div class="icn" style="left:154.700px;top:494.59999999999997px;"><svg viewBox="0 0 10 6" width="10" height="6"><path d="M1.200 0.800L5 4.800L8.800 0.800" fill="none" stroke="#6f7782" stroke-width="1.3"/></svg></div>
<div class="t" style="left:176px;top:488.7px;color:#f07070;font-size:12px;">VOL:</div>
<div class="t" style="left:207.5px;top:489.9px;color:#f07070;font-size:12px;letter-spacing:0.400px;">2.139</div>
<div class="tri-d" style="left:244.400px;top:495.0px;"></div>
<div class="t" style="left:301.2px;top:488.7px;color:#7a4a20;font-size:12px;letter-spacing:0.280px;">MAVOL5:</div>
<div class="t" style="left:397.2px;top:488.7px;color:#2aa0d8;font-size:12px;letter-spacing:0.280px;">MAVOL50:</div>
<div class="t" style="left:461.2px;top:489.9px;color:#2aa0d8;font-size:12px;letter-spacing:0.300px;">3.691</div>
<div class="tri-d" style="left:498px;top:495.0px;"></div>
<div class="t" style="left:554px;top:488.7px;color:#7a3a7a;font-size:12px;letter-spacing:0.280px;">MAVOL520:</div>
<div class="icn" style="left:976px;top:491.300px;width:14px;height:14px;"><svg viewBox="0 0 14 14" width="14" height="14"><path d="M8.400 1.200H12.700V5.500M12.700 1.200L8.200 5.700M0.800 8.600V12.900H5.100M0.800 12.900L5.400 8.300" fill="none" stroke="#6f7782" stroke-width="1.2"/></svg></div>
<div class="icn" style="left:52.6px;top:640.4px;"><svg viewBox="0 0 16 16" width="16" height="16"><path d="M14.05 8.00 L14.12 8.40 L14.31 8.83 L14.52 9.30 L14.68 9.79 L14.71 10.28 L14.63 10.75 L14.46 11.18 L14.24 11.60 L13.99 12.00 L13.69 12.37 L13.33 12.68 L12.89 12.89 L12.38 13.00 L11.87 13.05 L11.41 13.10 L11.03 13.24 L10.71 13.50 L10.43 13.88 L10.14 14.30 L9.79 14.68 L9.38 14.95 L8.94 15.11 L8.47 15.18 L8.00 15.20 L7.53 15.18 L7.06 15.11 L6.62 14.95 L6.21 14.68 L5.86 14.30 L5.57 13.88 L5.29 13.50 L4.98 13.24 L4.59 13.10 L4.13 13.05 L3.62 13.00 L3.11 12.89 L2.67 12.68 L2.31 12.37 L2.01 12.00 L1.76 11.60 L1.54 11.18 L1.37 10.75 L1.29 10.28 L1.32 9.79 L1.48 9.30 L1.69 8.83 L1.88 8.40 L1.95 8.00 L1.88 7.60 L1.69 7.17 L1.48 6.70 L1.32 6.21 L1.29 5.72 L1.37 5.25 L1.54 4.82 L1.76 4.40 L2.01 4.00 L2.31 3.63 L2.67 3.32 L3.11 3.11 L3.62 3.00 L4.13 2.95 L4.59 2.90 L4.97 2.76 L5.29 2.50 L5.57 2.12 L5.86 1.70 L6.21 1.32 L6.62 1.05 L7.06 0.89 L7.53 0.82 L8.00 0.80 L8.47 0.82 L8.94 0.89 L9.38 1.05 L9.79 1.32 L10.14 1.70 L10.43 2.12 L10.71 2.50 L11.03 2.76 L11.41 2.90 L11.87 2.95 L12.38 3.00 L12.89 3.11 L13.33 3.32 L13.69 3.63 L13.99 4.00 L14.24 4.40 L14.46 4.82 L14.63 5.25 L14.71 5.72 L14.68 6.21 L14.52 6.70 L14.31 7.17 L14.12 7.60Z" fill="none" stroke="#6f7782" stroke-width="1.35" stroke-linejoin="round"/><circle cx="8" cy="8" r="2.3" fill="none" stroke="#6f7782" stroke-width="1.35"/></svg></div>
<div class="icn" style="left:77.85px;top:640.4px;"><svg viewBox="0 0 16 16" width="16" height="16"><circle cx="8" cy="8" r="6.9" fill="none" stroke="#6f7782" stroke-width="1.3"/><path d="M5.400 5.400L10.600 10.600M10.600 5.400L5.400 10.600" stroke="#6f7782" stroke-width="1.45" fill="none"/></svg></div>
<div class="t" style="left:102.2px;top:639.8000000000001px;color:#c8ccd2;font-size:12px;">MACD</div>
<div class="icn" style="left:148.300px;top:644.8000000000001px;"><svg viewBox="0 0 10 6" width="10" height="6"><path d="M1.200 0.800L5 4.800L8.800 0.800" fill="none" stroke="#6f7782" stroke-width="1.3"/></svg></div>
<div class="t" style="left:169.3px;top:638.9px;color:#e8922a;font-size:12px;">DIF:</div>
<div class="t" style="left:196.7px;top:640.1px;color:#e8922a;font-size:12px;letter-spacing:0.150px;">-15.376</div>
<div class="tri-d" style="left:244.400px;top:645.2px;"></div>
<div class="t" style="left:299.6px;top:638.9px;color:#2aa0d8;font-size:12px;">DEA:</div>
<div class="t" style="left:331.7px;top:640.1px;color:#2aa0d8;font-size:12px;letter-spacing:0.300px;">3.070</div>
<div class="tri-d" style="left:369px;top:645.2px;"></div>
<div class="t" style="left:436px;top:638.9px;color:#e070e0;font-size:12px;">MACD:</div>
<div class="t" style="left:478.5px;top:640.1px;color:#e070e0;font-size:12px;letter-spacing:0.150px;">-36.893</div>
<div class="tri-u" style="left:526.500px;top:644.7px;"></div>
<div class="icn" style="left:976px;top:641.800px;width:14px;height:14px;"><svg viewBox="0 0 14 14" width="14" height="14"><path d="M8.400 1.200H12.700V5.500M12.700 1.200L8.200 5.700M0.800 8.600V12.900H5.100M0.800 12.900L5.400 8.300" fill="none" stroke="#6f7782" stroke-width="1.2"/></svg></div>
</body></html>
